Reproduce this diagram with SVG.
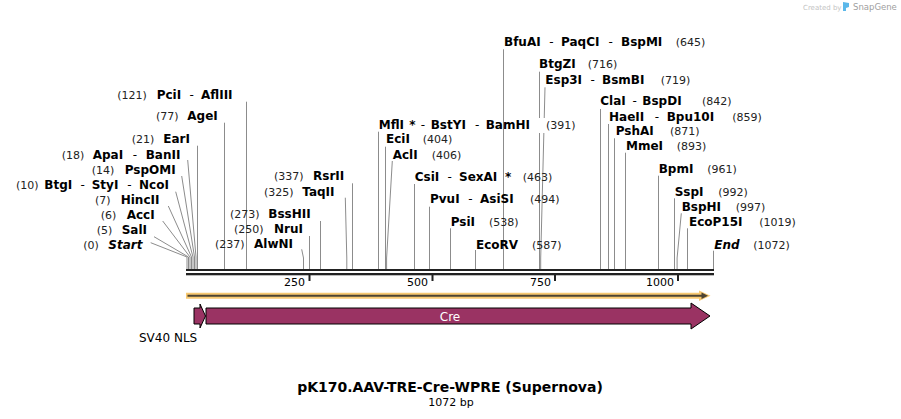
<svg xmlns="http://www.w3.org/2000/svg" width="901" height="419" viewBox="0 0 901 419">
<style>
.n{font-family:"DejaVu Sans",Verdana,sans-serif;font-size:12px;font-weight:bold;fill:#000}
.i{font-style:italic}
.p{font-family:"DejaVu Sans",Verdana,sans-serif;font-size:11px;fill:#222}
.d{font-family:"DejaVu Sans",Verdana,sans-serif;font-size:12px;fill:#000;text-anchor:middle}
.ln{stroke:#8c8c8c;stroke-width:1;fill:none}
.tk{font-family:"DejaVu Sans",Verdana,sans-serif;font-size:11px;fill:#000;text-anchor:end}
.feat{fill:#9a3363;stroke:#000;stroke-width:1}
</style>
<rect width="901" height="419" fill="#fff"/>

<g id="credit">
<text x="803" y="9.5" style="font-family:'DejaVu Sans',sans-serif;font-size:7px;fill:#c4c4c4">Created by</text>
<path d="M843,2 L849,3 L849,7 L846,8 L846,11 L843,11 Z" fill="#5bb8ea"/>
<text x="853" y="10" style="font-family:'DejaVu Sans',sans-serif;font-size:8.5px;fill:#a0a0a0">SnapGene</text>
</g>

<g id="connectors">
<path class="ln" d="M246.5,101.7V269"/>
<path class="ln" d="M224.5,122.7V269"/>
<path class="ln" d="M197.5,145.7V269"/>
<path class="ln" d="M187.7,160L196,257V269"/>
<path class="ln" d="M181.7,176L194.5,257V269"/>
<path class="ln" d="M175.7,191.7L193,257V269"/>
<path class="ln" d="M168.3,206L191.5,257V269"/>
<path class="ln" d="M162.7,221L190,257V269"/>
<path class="ln" d="M154,236.7L188.5,257V269"/>
<path class="ln" d="M150.7,242.7L187,257V269"/>
<path class="ln" d="M352.5,183.3V269"/>
<path class="ln" d="M345.3,197.7L346.8,258V269"/>
<path class="ln" d="M320.5,221V269"/>
<path class="ln" d="M309.5,236V269"/>
<path class="ln" d="M301.7,249.3L303.5,258V269"/>
<path class="ln" d="M378.5,131.7V269"/>
<path class="ln" d="M385.5,146.7V269"/>
<path class="ln" d="M392.3,161L386.6,258V269"/>
<path class="ln" d="M414.5,184V269"/>
<path class="ln" d="M429.5,206.7V269"/>
<path class="ln" d="M450.5,228.3V269"/>
<path class="ln" d="M475.5,250V269"/>
<path class="ln" d="M503.5,49.3V269"/>
<path class="ln" d="M539.5,71.7V269"/>
<path class="ln" d="M545,87.3L540.7,258V269"/>
<path class="ln" d="M600.5,109V269"/>
<path class="ln" d="M608.5,124V269"/>
<path class="ln" d="M614.5,138.3V269"/>
<path class="ln" d="M625.5,152.7V269"/>
<path class="ln" d="M658.5,175.7V269"/>
<path class="ln" d="M674.5,198.3V269"/>
<path class="ln" d="M681.3,213.3L677.1,258V269"/>
<path class="ln" d="M687.5,228.3V269"/>
<path class="ln" d="M713.5,250.7V269"/>
</g>

<g id="site-PciI"><text class="p" x="117.3" y="99">(121)</text><text class="n" x="156.7" y="99">PciI</text><text class="d" x="191.7" y="99">-</text><text class="n" x="201" y="99">AflIII</text></g>
<g id="site-AgeI"><text class="p" x="156" y="120">(77)</text><text class="n" x="187.3" y="120">AgeI</text></g>
<g id="site-EarI"><text class="p" x="131.7" y="143">(21)</text><text class="n" x="163.3" y="143">EarI</text></g>
<g id="site-ApaI"><text class="p" x="61.7" y="159">(18)</text><text class="n" x="92.7" y="159">ApaI</text><text class="d" x="135" y="159">-</text><text class="n" x="145.7" y="159">BanII</text></g>
<g id="site-PspOMI"><text class="p" x="91.7" y="173.5">(14)</text><text class="n" x="124.7" y="173.5">PspOMI</text></g>
<g id="site-BtgI"><text class="p" x="16" y="189">(10)</text><text class="n" x="44.3" y="189">BtgI</text><text class="d" x="82.6" y="189">-</text><text class="n" x="91.7" y="189">StyI</text><text class="d" x="129.3" y="189">-</text><text class="n" x="139" y="189">NcoI</text></g>
<g id="site-HincII"><text class="p" x="95" y="204">(7)</text><text class="n" x="120.7" y="204">HincII</text></g>
<g id="site-AccI"><text class="p" x="100.7" y="219">(6)</text><text class="n" x="126.7" y="219">AccI</text></g>
<g id="site-SalI"><text class="p" x="96.7" y="234">(5)</text><text class="n" x="121.7" y="234">SalI</text></g>
<g id="site-Start"><text class="p" x="83.3" y="248.7">(0)</text><text class="n i" x="108.3" y="248.7">Start</text></g>

<g id="site-RsrII"><text class="p" x="274" y="180">(337)</text><text class="n" x="313" y="180">RsrII</text></g>
<g id="site-TaqII"><text class="p" x="264" y="196">(325)</text><text class="n" x="302.3" y="196">TaqII</text></g>
<g id="site-BssHII"><text class="p" x="230" y="217.7">(273)</text><text class="n" x="268.3" y="217.7">BssHII</text></g>
<g id="site-NruI"><text class="p" x="234" y="233.3">(250)</text><text class="n" x="274" y="233.3">NruI</text></g>
<g id="site-AlwNI"><text class="p" x="215" y="247.5">(237)</text><text class="n" x="254" y="247.5">AlwNI</text></g>

<g id="site-MflI"><rect x="531" y="118" width="14" height="15" fill="#fff"/><text class="n" x="378.7" y="128.7">MflI</text><text class="n" x="409.3" y="128.7">*</text><text class="d" x="423" y="128.7">-</text><text class="n" x="430.7" y="128.7">BstYI</text><text class="d" x="477.2" y="128.7">-</text><text class="n" x="485.7" y="128.7">BamHI</text><text class="p" x="546" y="128.7">(391)</text></g>
<g id="site-EciI"><text class="n" x="386" y="143.3">EciI</text><text class="p" x="422.7" y="143.3">(404)</text></g>
<g id="site-AclI"><text class="n" x="392.7" y="158.7">AclI</text><text class="p" x="431.7" y="158.7">(406)</text></g>
<g id="site-CsiI"><text class="n" x="414.7" y="180.7">CsiI</text><text class="d" x="449.7" y="180.7">-</text><text class="n" x="459" y="180.7">SexAI</text><text class="n" x="505" y="180.7">*</text><text class="p" x="522.7" y="180.7">(463)</text></g>
<g id="site-PvuI"><text class="n" x="430" y="203.3">PvuI</text><text class="d" x="470.5" y="203.3">-</text><text class="n" x="480" y="203.3">AsiSI</text><text class="p" x="530" y="203.3">(494)</text></g>
<g id="site-PsiI"><text class="n" x="450.7" y="226">PsiI</text><text class="p" x="489" y="226">(538)</text></g>
<g id="site-EcoRV"><text class="n" x="476" y="248.7">EcoRV</text><text class="p" x="532" y="248.7">(587)</text></g>

<g id="site-BfuAI"><text class="n" x="504" y="46">BfuAI</text><text class="d" x="551.3" y="46">-</text><text class="n" x="561" y="46">PaqCI</text><text class="d" x="610.7" y="46">-</text><text class="n" x="621" y="46">BspMI</text><text class="p" x="675.7" y="46">(645)</text></g>
<g id="site-BtgZI"><text class="n" x="539" y="67.7">BtgZI</text><text class="p" x="587.7" y="67.7">(716)</text></g>
<g id="site-Esp3I"><text class="n" x="545.3" y="84">Esp3I</text><text class="d" x="592.7" y="84">-</text><text class="n" x="602" y="84">BsmBI</text><text class="p" x="660.7" y="84">(719)</text></g>
<g id="site-ClaI"><text class="n" x="600.3" y="105">ClaI</text><text class="d" x="634.7" y="105">-</text><text class="n" x="642.3" y="105">BspDI</text><text class="p" x="702" y="105">(842)</text></g>
<g id="site-HaeII"><text class="n" x="609" y="120.7">HaeII</text><text class="d" x="656.8" y="120.7">-</text><text class="n" x="666.7" y="120.7">Bpu10I</text><text class="p" x="732.3" y="120.7">(859)</text></g>
<g id="site-PshAI"><text class="n" x="615.7" y="135.3">PshAI</text><text class="p" x="670" y="135.3">(871)</text></g>
<g id="site-MmeI"><text class="n" x="626" y="150">MmeI</text><text class="p" x="676.7" y="150">(893)</text></g>
<g id="site-BpmI"><text class="n" x="658.7" y="173.3">BpmI</text><text class="p" x="707.3" y="173.3">(961)</text></g>
<g id="site-SspI"><text class="n" x="674.7" y="195.7">SspI</text><text class="p" x="718.3" y="195.7">(992)</text></g>
<g id="site-BspHI"><text class="n" x="681.7" y="210.7">BspHI</text><text class="p" x="735.7" y="210.7">(997)</text></g>
<g id="site-EcoP15I"><text class="n" x="689" y="225.7">EcoP15I</text><text class="p" x="759.3" y="225.7">(1019)</text></g>
<g id="site-End"><text class="n i" x="714.3" y="248.5">End</text><text class="p" x="753.3" y="248.5">(1072)</text></g>

<g id="ruler">
<rect x="186" y="269" width="528" height="2" fill="#222"/>
<rect x="186" y="273" width="528" height="2.3" fill="#222"/>
<rect x="308.5" y="275" width="2" height="6" fill="#222"/>
<rect x="431.5" y="275" width="2" height="6" fill="#222"/>
<rect x="554" y="275" width="2" height="6" fill="#222"/>
<rect x="677" y="275" width="2" height="6" fill="#222"/>
<text class="tk" x="305" y="285.5">250</text>
<text class="tk" x="428" y="285.5">500</text>
<text class="tk" x="551" y="285.5">750</text>
<text class="tk" x="674" y="285.5">1000</text>
</g>

<g id="orf">
<path d="M186,295.7H703" stroke="#f8c972" stroke-width="6" fill="none"/>
<polygon points="699,290.5 710.5,295.7 699,301" fill="#f8c972"/>
<path d="M187.5,295.7H703" stroke="#4d4433" stroke-width="2" fill="none"/>
<polygon points="701.5,292.5 708,295.7 701.5,299" fill="#4d4433"/>
</g>

<g id="feature-SV40NLS">
<polygon class="feat" points="194,308 200,308 200,304 205.5,316 200,328 200,324 194,324"/>
<text x="139" y="341.5" style="font-family:'DejaVu Sans',Verdana,sans-serif;font-size:12px;fill:#000">SV40 NLS</text>
</g>
<g id="feature-Cre">
<polygon class="feat" points="206,308 691,308 691,303 710,316 691,329 691,324 206,324"/>
<text x="450" y="320.5" text-anchor="middle" style="font-family:'DejaVu Sans',Verdana,sans-serif;font-size:12px;fill:#fff">Cre</text>
</g>

<g id="title">
<text x="450" y="392" text-anchor="middle" style="font-family:'DejaVu Sans',Verdana,sans-serif;font-size:14px;font-weight:bold;fill:#000">pK170.AAV-TRE-Cre-WPRE (Supernova)</text>
<text x="451" y="405.5" text-anchor="middle" style="font-family:'DejaVu Sans',Verdana,sans-serif;font-size:11px;fill:#000">1072 bp</text>
</g>
</svg>
